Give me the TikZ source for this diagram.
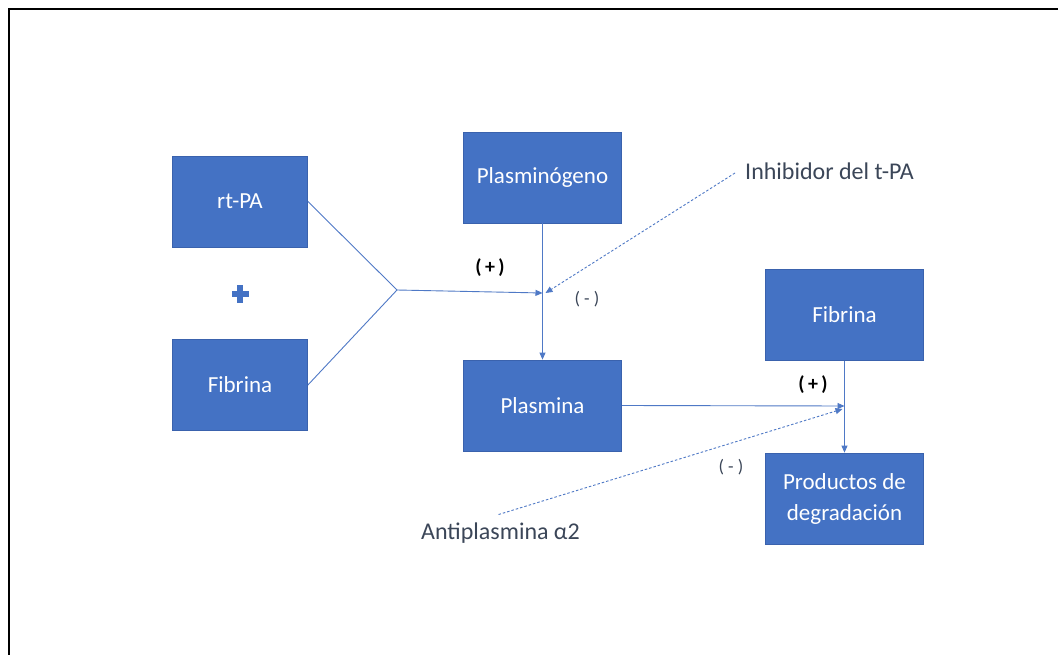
\documentclass[tikz,border=0pt]{standalone}
\usepackage{fontspec}
\setmainfont{Carlito}
\usetikzlibrary{arrows.meta}
\definecolor{boxblue}{HTML}{4472C4}
\definecolor{boxedge}{HTML}{3A62AD}
\definecolor{linkblue}{HTML}{4F79C6}
\definecolor{labelgray}{HTML}{3B4658}
\begin{document}
\begin{tikzpicture}[x=1pt,y=-1pt,
  stepbox/.style={draw=boxedge, line width=0.8pt, fill=boxblue, text=white,
    minimum height=91pt, align=center, inner sep=2pt,
    font=\fontsize{23}{31}\selectfont},
  link/.style={draw=linkblue, line width=0.9pt},
  tip/.style={-{Triangle[length=7pt,width=6pt]}},
  inhib/.style={draw=linkblue, line width=0.9pt, dash pattern=on 2.5pt off 2pt},
  sidelabel/.style={text=labelgray, inner sep=0pt, anchor=west,
    font=\fontsize{24}{28}\selectfont},
  plus/.style={text=black, font=\bfseries\fontsize{20}{22}\selectfont},
  minus/.style={text=labelgray, font=\fontsize{18}{20}\selectfont}]
  \useasboundingbox (0,0) rectangle (1058,655);
  \fill[white] (0,0) rectangle (1058,655);
  % frame
  \draw[line width=2pt] (8.5,660) -- (8.5,9.5) -- (1062,9.5);

  % boxes
  \node[stepbox, minimum width=135pt] (rtpa) at (240,201.5) {rt-PA};
  \node[stepbox, minimum width=135pt] (fibA) at (240,385) {Fibrina};
  \node[stepbox, minimum width=158pt] (plg) at (542.5,177.5) {Plasminógeno};
  \node[stepbox, minimum width=158pt] (plm) at (542.5,405.5) {Plasmina};
  \node[stepbox, minimum width=158pt] (fibB) at (844.5,315) {Fibrina};
  \node[stepbox, minimum width=158pt] (prod) at (844.5,498.5) {Productos de\\degradación};

  % plus sign between the two reagents
  \fill[boxblue] (231.5,291) rectangle (248.5,297);
  \fill[boxblue] (237,285.5) rectangle (243,302.5);

  % inhibitor labels
  \node[sidelabel] (inh) at (745,171) {Inhibidor del t-PA};
  \node[sidelabel] (anti) at (421,533) {Antiplasmina α2};

  % junction points
  \coordinate (mix) at (397,290);
  \coordinate (act) at (542.5,293);
  \coordinate (lys) at (844.5,406);

  % activation of plasminogen
  \draw[link] (rtpa.east) -- (mix);
  \draw[link] (fibA.east) -- (mix);
  \draw[link, tip] (mix) -- (act);
  \draw[link, tip] (plg.south) -- (plm.north);
  \draw[inhib, tip] ([xshift=-10pt,yshift=-2pt]inh.west) -- ([xshift=3pt]act);

  % fibrinolysis
  \draw[link, tip] (plm.east) -- (lys);
  \draw[link, tip] (fibB.south) -- (prod.north);
  \draw[inhib, tip] ([xshift=-2pt,yshift=8pt]anti.north) -- ([xshift=-2pt,yshift=-3pt]lys);

  % signs
  \node[plus] at (490,268) {(\,+\,)};
  \node[minus] at (587,299) {( - )};
  \node[plus] at (813,385) {(\,+\,)};
  \node[minus] at (731,467) {( - )};
\end{tikzpicture}
\end{document}
